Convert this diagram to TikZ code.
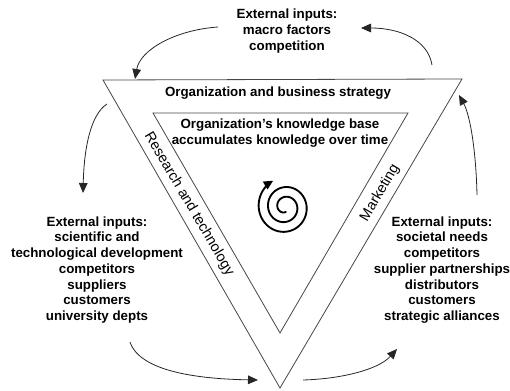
\documentclass[tikz,border=0pt]{standalone}
\usepackage{fontspec}
\setmainfont{Liberation Sans}
\definecolor{edgegray}{RGB}{70,70,70}
\usetikzlibrary{arrows.meta}
\tikzset{
	inputs/.style={align=center, font=\fontsize{10}{11.8}\selectfont\bfseries},
	bandtext/.style={align=center, font=\fontsize{10}{12}\selectfont\bfseries},
	sidetext/.style={font=\fontsize{10.8}{12}\selectfont, inner sep=0pt},
	edge/.style={draw=edgegray, line width=0.6pt, line join=miter},
	cyclearrow/.style={-{Triangle[length=7.5pt, width=6.5pt]}, draw=black!85, line width=0.6pt},
	spiral/.style={-{Triangle[length=7pt, width=6.5pt]}, line width=1.4pt, line cap=round},
}

\begin{document}
\begin{tikzpicture}[x=0.75pt, y=-0.75pt]
		\useasboundingbox (0,0) rectangle (510,391);
		% the two nested triangles
		\coordinate (outL) at (103,80);
		\coordinate (outR) at (462,79);
		\coordinate (outB) at (280,388);
		\coordinate (inL) at (153,113);
		\coordinate (inR) at (408,113);
		\coordinate (inB) at (280,333);
		\draw[edge] (outL) -- (outR) -- (outB) -- cycle;
		\draw[edge] (inL) -- (inR) -- (inB) -- cycle;

		\node[bandtext] (strategy) at (278,93) {Organization and business strategy};
		\node[bandtext] (kbase) at (280,133) {Organization's knowledge base\\accumulates knowledge over time};
		\node[sidetext, rotate=-59.5] (research) at (189,204) {Research and technology};
		\node[sidetext, rotate=59.5] (marketing) at (380,193) {Marketing};

		% outside inputs
		\node[inputs] (topin) at (287,31) {External inputs:\\macro factors\\competition};
		\node[inputs] (leftin) at (97,270) {External inputs:\\scientific and\\technological development\\competitors\\suppliers\\customers\\university depts};
		\node[inputs] (rightin) at (442,270) {External inputs:\\societal needs\\competitors\\supplier partnerships\\distributors\\customers\\strategic alliances};

		% arrows running round the triangle
		\coordinate (a1s) at (218,27);  \coordinate (a1e) at (135,79);
		\coordinate (a2s) at (432,65);  \coordinate (a2e) at (361,28);
		\coordinate (a3s) at (107,104); \coordinate (a3e) at (83,193);
		\coordinate (a4s) at (130,342); \coordinate (a4e) at (258,380);
		\coordinate (a5s) at (303,380); \coordinate (a5e) at (397,349);
		\coordinate (a6s) at (477,195); \coordinate (a6e) at (459,95);
		\draw[cyclearrow] (a1s) .. controls (175,30) and (140,50) .. (a1e);
		\draw[cyclearrow] (a2s) .. controls (428,40) and (400,28) .. (a2e);
		\draw[cyclearrow] (a3s) .. controls (90,115) and (84,150) .. (a3e);
		\draw[cyclearrow] (a4s) .. controls (140,372) and (200,379) .. (a4e);
		\draw[cyclearrow] (a5s) .. controls (340,379) and (378,370) .. (a5e);
		\draw[cyclearrow] (a6s) .. controls (476,150) and (470,115) .. (a6e);

		% growing knowledge spiral
		\draw[spiral] plot[domain=-640:245, samples=220, variable=\t]
			({285+(5+(\t+640)/885*23)*cos(\t)}, {207+(5+(\t+640)/885*24)*sin(\t)});
	\end{tikzpicture}
\end{document}
